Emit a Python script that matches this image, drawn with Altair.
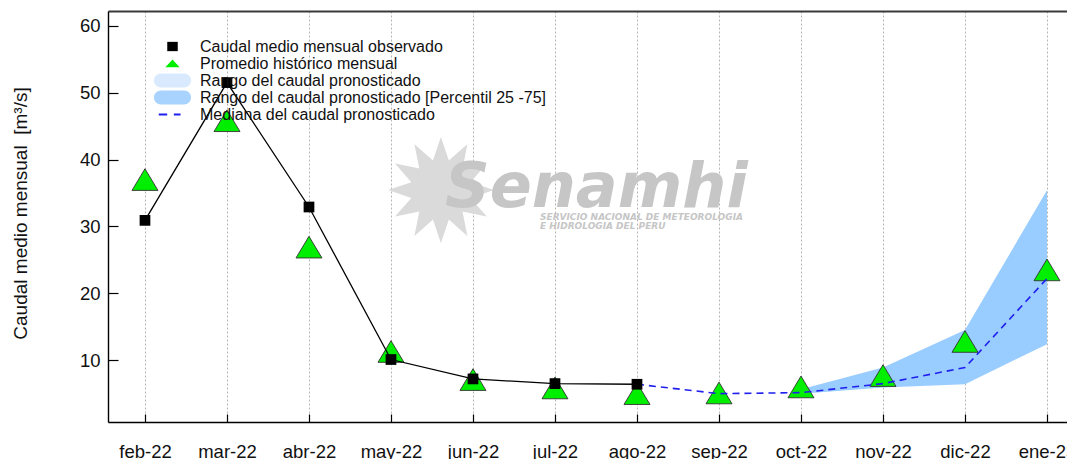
import json
import altair as alt
import pandas as pd

# ---------------- data ----------------
meses = ["feb-22", "mar-22", "abr-22", "may-22", "jun-22", "jul-22",
         "ago-22", "sep-22", "oct-22", "nov-22", "dic-22", "ene-23"]
obs_meses = ["feb-22", "mar-22", "abr-22", "may-22", "jun-22", "jul-22", "ago-22"]
observado = [30.9, 51.5, 32.9, 10.1, 7.2, 6.5, 6.4]
historico = [37.0, 45.8, 26.9, 11.3, 7.1, 5.85, 5.0, 5.1, 6.0, 7.7, 12.8, 23.5]
med_meses = ["ago-22", "sep-22", "oct-22", "nov-22", "dic-22", "ene-23"]
mediana = [6.4, 5.0, 5.15, 6.5, 8.9, 22.2]
banda_meses = ["oct-22", "nov-22", "dic-22", "ene-23"]
p25 = [5.0, 5.9, 6.4, 12.4]
p75 = [5.65, 8.9, 14.5, 35.4]
series = ["Caudal medio mensual observado",
          "Promedio histórico mensual",
          "Rango del caudal pronosticado",
          "Rango del caudal pronosticado [Percentil 25 -75]",
          "Mediana del caudal pronosticado"]
y_ticks = [10, 20, 30, 40, 50, 60]

df_obs = pd.DataFrame({"idx": [meses.index(m) for m in obs_meses], "v": observado})
df_hist = pd.DataFrame({"idx": list(range(len(meses))), "v": historico})
df_med = pd.DataFrame({"idx": [meses.index(m) for m in med_meses], "v": mediana})
df_band = pd.DataFrame({"idx": [meses.index(m) for m in banda_meses], "lo": p25, "hi": p75})
df_leg = pd.DataFrame({"serie": series})

# ---------------- layout ----------------
W, H = 959, 411
FONT = "Liberation Sans"
xscale = alt.Scale(domain=[-0.451, 11.244], nice=False, zero=False)
yscale = alt.Scale(domain=[0.76, 62.2], nice=False, zero=False)
label_expr = json.dumps(meses).replace('"', "'") + "[datum.value]"

def X(axis=None):
    return alt.X("idx:Q", scale=xscale, axis=axis)

def Y(field="v", axis=None):
    return alt.Y(f"{field}:Q", scale=yscale, axis=axis)

# legend symbols (custom paths)
leg_shapes = [
    "M-0.7,-0.62H0.7V0.62H-0.7Z",
    "M0,-0.55L0.95,0.5H-0.95Z",
    "M-1.54,-0.93H1.54A0.93,0.93 0 0 1 1.54,0.93H-1.54A0.93,0.93 0 0 1 -1.54,-0.93Z",
    "M-1.54,-0.93H1.54A0.93,0.93 0 0 1 1.54,0.93H-1.54A0.93,0.93 0 0 1 -1.54,-0.93Z",
    "M-1.83,-0.13H-0.71V0.13H-1.83Z M0.18,-0.13H1.07V0.13H0.18Z",
]
leg_colors = ["#000000", "#00ee00", "#d9eaff", "#a9d3ff", "#1f1fef"]
legend = alt.Legend(title=None, orient="none", legendX=56.5, legendY=27.5,
                    symbolSize=225, labelFontSize=16, labelFont=FONT,
                    labelColor="#111111", labelOffset=19.5, rowPadding=1,
                    padding=0, symbolStrokeWidth=0, labelLimit=600,
                    symbolOpacity=1)

# ---------------- watermark ----------------
one = pd.DataFrame({"k": [0]})
wm_sun = alt.Chart(one).mark_text(text="✹", font="DejaVu Sans", fontSize=140,
                                  color="#dadada", align="center",
                                  baseline="middle").encode(
    x=alt.value(333), y=alt.value(188))
wm_name = alt.Chart(one).mark_text(text="Senamhi", font="DejaVu Sans", fontSize=62,
                                   fontStyle="italic", fontWeight="bold",
                                   color="#c6c6c6", align="left",
                                   baseline="alphabetic").encode(
    x=alt.value(337), y=alt.value(196))
wm_l1 = alt.Chart(one).mark_text(text="SERVICIO NACIONAL DE METEOROLOGIA",
                                 font="DejaVu Sans", fontSize=9, fontStyle="italic",
                                 fontWeight="bold", color="#c6c6c6", align="left",
                                 baseline="middle").encode(
    x=alt.value(432), y=alt.value(206))
wm_l2 = alt.Chart(one).mark_text(text="E HIDROLOGIA DEL PERU",
                                 font="DejaVu Sans", fontSize=9, fontStyle="italic",
                                 fontWeight="bold", color="#c6c6c6", align="left",
                                 baseline="middle").encode(
    x=alt.value(432), y=alt.value(215))

# ---------------- axes layers ----------------
ax_main = alt.Chart(df_hist).mark_point(opacity=0).encode(
    x=X(alt.Axis(orient="bottom", values=list(range(12)), labelExpr=label_expr,
                 domain=False, ticks=False, tickSize=0, grid=True,
                 gridDash=[2, 2], gridColor="#b5b5b5", gridWidth=1,
                 labelPadding=20, labelFontSize=18.5, labelFont=FONT,
                 labelColor="#111111", labelFlush=False, labelOverlap=False,
                 title=None)),
    y=Y("v", alt.Axis(orient="left", values=y_ticks, domain=False, ticks=False,
                      tickSize=0, grid=False, labelPadding=8, labelFontSize=18.5,
                      labelFont=FONT, labelColor="#111111",
                      title="Caudal medio mensual\u00a0 [m³/s]", titleFont=FONT,
                      titleFontSize=19, titleFontWeight="normal",
                      titleColor="#111111", titleAngle=270, titleX=-88,
                      titleY=202, titleAlign="center", titleBaseline="middle")),
)
ax_frame = alt.Chart(df_hist).mark_point(opacity=0).encode(
    x=X(alt.Axis(orient="top", offset=0, labels=False, ticks=False, grid=False,
                 domain=True, domainColor="#3a3a3a", domainWidth=2, title=None)),
    y=Y("v", alt.Axis(orient="right", offset=-W, labels=False, ticks=True,
                      tickSize=10, tickColor="#000000", tickWidth=1.2,
                      values=y_ticks, grid=False, domain=True,
                      domainColor="#000000", domainWidth=1.4, title=None)),
)
ax_bottom = alt.Chart(df_hist).mark_point(opacity=0).encode(
    x=X(alt.Axis(orient="top", offset=-H, labels=False, ticks=True, tickSize=8,
                 tickColor="#000000", tickWidth=1.2, values=list(range(12)),
                 grid=False, domain=True, domainColor="#000000",
                 domainWidth=1.5, title=None)),
    y=Y("v"),
)

# ---------------- data layers ----------------
band = alt.Chart(df_band).mark_area(color="#99ccff", opacity=1).encode(
    x=X(), y=Y("lo"), y2="hi:Q")

tri = alt.Chart(df_hist).mark_point(
    shape="M0,-1L1.2,1H-1.2Z", size=469, filled=True, fill="#00ee00",
    stroke="#333333", strokeWidth=0.9, opacity=1).encode(x=X(), y=Y())

med = alt.Chart(df_med).mark_line(color="#1f1fef", strokeWidth=1.6,
                                  strokeDash=[7, 5]).encode(x=X(), y=Y())

obs_line = alt.Chart(df_obs).mark_line(color="#000000", strokeWidth=1.3).encode(
    x=X(), y=Y())

sq = alt.Chart(df_obs).mark_point(shape="square", size=115, filled=True,
                                  color="#000000", opacity=1).encode(x=X(), y=Y())

leg = alt.Chart(df_leg).mark_point(filled=True, opacity=0).encode(
    x=alt.value(0), y=alt.value(0),
    shape=alt.Shape("serie:N", scale=alt.Scale(domain=series, range=leg_shapes),
                    legend=legend),
    fill=alt.Fill("serie:N", scale=alt.Scale(domain=series, range=leg_colors),
                  legend=legend),
)

chart = alt.layer(
    wm_sun, wm_name, wm_l1, wm_l2,
    ax_main, ax_frame, ax_bottom,
    band, tri, med, obs_line, sq, leg,
).resolve_axis(x="independent", y="independent").properties(
    width=W, height=H,
    autosize=alt.AutoSizeParams(type="none"),
    padding={"left": 100, "top": 3, "right": 0, "bottom": 40},
    background="white",
).configure_view(stroke="transparent")

chart.save("out.html", embed_options={"renderer": "svg", "actions": False})
